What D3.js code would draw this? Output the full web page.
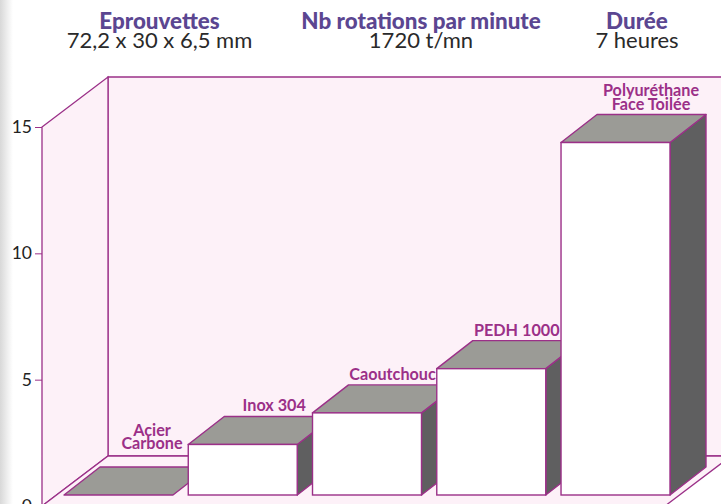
<!DOCTYPE html>
<html><head><meta charset="utf-8">
<script src="https://cdnjs.cloudflare.com/ajax/libs/d3/7.8.5/d3.min.js"></script>
<style>html,body{margin:0;padding:0;background:#fff;overflow:hidden}svg{display:block}</style>
</head><body><div id="c"></div>
<script>
const categories = ["Acier|Carbone","Inox 304","Caoutchouc","PEDH 1000","Polyuréthane|Face Toilée"];
const values = [0, 2, 3.25, 5, 13.95];
const yTicks = [0, 5, 10, 15];
const headerTitles = ["Eprouvettes","Nb rotations par minute","Durée"];
const headerValues = ["72,2 x 30 x 6,5 mm","1720 t/mn","7 heures"];

const W=721,H=504;
const stroke="#9b3088", wall="#fdf1f8", topC="#9b9b96", sideC="#5f5f60";
const font="Lato, 'Noto Sans', sans-serif";
const svg=d3.select("#c").append("svg").attr("width",W).attr("height",H);
const defs=svg.append("defs");
const g=defs.append("linearGradient").attr("id","sh");
g.append("stop").attr("offset",0).attr("stop-color","#d8d8d8");
g.append("stop").attr("offset",.6).attr("stop-color","#f0f0f0");
g.append("stop").attr("offset",1).attr("stop-color","#ffffff");
svg.append("rect").attr("width",W).attr("height",H).attr("fill","#fff");
svg.append("rect").attr("width",13).attr("height",H).attr("fill","url(#sh)");

const y=d3.scaleLinear().domain([0,15]).range([506,127]);
const x=d3.scaleBand().domain(categories).range([64,670]).paddingInner(0.123).paddingOuter(0);
const wallDx=66, wallDy=-50, barDx=36, barDy=-28, baseShift=11;
const poly=p=>p.map(d=>d.join(",")).join(" ");
const x0=42, xEnd=731, yTop=y(15), yBot=y(0);

// walls and floor
const frame=(pts)=>svg.append("polygon").attr("points",poly(pts)).attr("fill",wall).attr("stroke",stroke).attr("stroke-width",1.3);
frame([[x0+wallDx,yTop+wallDy],[xEnd,yTop+wallDy],[xEnd,yBot+wallDy],[x0+wallDx,yBot+wallDy]]);
frame([[x0,yTop],[x0+wallDx,yTop+wallDy],[x0+wallDx,yBot+wallDy],[x0,yBot]]);
frame([[x0,yBot],[x0+wallDx,yBot+wallDy],[xEnd,yBot+wallDy],[xEnd-wallDx,yBot]]);

// axis
const axis=d3.axisLeft(y).tickValues(yTicks).tickSize(7).tickPadding(3).tickFormat(d3.format("d"));
const ax=svg.append("g").attr("transform",`translate(${x0},0)`).call(axis);
ax.select(".domain").remove();
ax.selectAll("line").attr("stroke",stroke).attr("stroke-width",1);
ax.selectAll("text").attr("fill","#222").attr("font-family",font).attr("font-size",17.5);

// bars
const bars=svg.append("g").selectAll("g").data(categories).join("g");
const sw=1.4;
bars.each(function(c,i){
  const s=d3.select(this), l=x(c), r=l+x.bandwidth(), b=y(0)-baseShift, t=y(values[i])-baseShift;
  if(values[i]>0){
    s.append("polygon").attr("points",poly([[r,b],[r+barDx,b+barDy],[r+barDx,t+barDy],[r,t]]))
      .attr("fill",sideC).attr("stroke",stroke).attr("stroke-width",sw).attr("stroke-linejoin","round");
  }
  s.append("polygon").attr("points",poly([[l,t],[l+barDx,t+barDy],[r+barDx,t+barDy],[r,t]]))
    .attr("fill",topC).attr("stroke",stroke).attr("stroke-width",sw).attr("stroke-linejoin","round");
  if(values[i]>0){
    s.append("rect").attr("x",l).attr("y",t).attr("width",x.bandwidth()).attr("height",b-t)
      .attr("fill","#fff").attr("stroke",stroke).attr("stroke-width",sw);
  }
});

// bar labels
const labelCenter=[88,86,80,80,90];
const labelLift=[13,0,0,0,0];
categories.forEach((c,i)=>{
  const t=y(values[i])-baseShift+barDy, parts=c.split("|");
  parts.forEach((p,k)=>{
    svg.append("text").attr("x",x(c)+labelCenter[i])
      .attr("y",t-5-labelLift[i]-(parts.length-1-k)*13.5)
      .attr("text-anchor","middle").attr("fill",stroke).attr("font-family",font)
      .attr("font-weight",700).attr("font-size",16.2).text(p);
  });
});

// header
const hx=[159.5,421,637];
headerTitles.forEach((t,i)=>{
  svg.append("text").attr("x",hx[i]).attr("y",29).attr("text-anchor","middle")
    .attr("fill","#5b4691").attr("font-family",font).attr("font-weight",900).attr("font-size",22.4).text(t);
  svg.append("text").attr("x",hx[i]).attr("y",48).attr("text-anchor","middle")
    .attr("fill","#2a2a2a").attr("font-family",font).attr("font-size",22).text(headerValues[i]);
});
</script></body></html>
